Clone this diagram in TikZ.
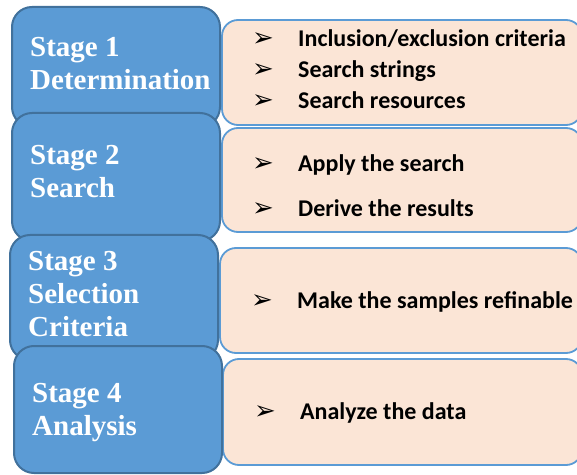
\documentclass[tikz,border=0pt]{standalone}
\usepackage{fontspec}
\setmainfont{Liberation Serif}
\newfontfamily\calfont{Carlito}
\newfontfamily\dingfont{DejaVu Sans}
\usetikzlibrary{positioning}

\definecolor{stageblue}{HTML}{5B9BD5}
\definecolor{stageedge}{HTML}{41719C}
\definecolor{taskfill}{HTML}{FBE5D6}

% one bulleted line in a task box
\newcommand{\task}[1]{\makebox[46pt][l]{\dingfont\fontsize{26}{26}\selectfont ➢}#1}

\tikzset{
  stage/.style={rectangle, draw=stageedge, fill=stageblue, line width=2pt, rounded corners=20pt},
  stagetext/.style={text=white, font=\bfseries\fontsize{29}{33}\selectfont, align=left, inner sep=0pt, anchor=west},
  taskbox/.style={rectangle, draw=stageblue, fill=taskfill, line width=1.8pt, rounded corners=16pt},
  tasktext/.style={font=\calfont\bfseries\fontsize{24}{31}\selectfont, align=left, inner sep=0pt, anchor=west},
}

\begin{document}
\begin{tikzpicture}[x=1pt, y=1pt]
  \useasboundingbox (0,0) rectangle (577,474);

  % task boxes on the right
  \node[taskbox, minimum width=360pt, minimum height=105pt] (t1) at (402,401.5) {};
  \node[taskbox, minimum width=360pt, minimum height=104pt] (t2) at (402,294) {};
  \node[taskbox, minimum width=362pt, minimum height=105pt] (t3) at (401,173.5) {};
  \node[taskbox, minimum width=359pt, minimum height=106pt] (t4) at (402.5,62) {};

  % stage boxes, each one laid over the one above
  \node[stage, minimum width=208pt, minimum height=120pt] (s1) at (116,407) {};
  \node[stagetext] (s1txt) at (30,410) {Stage 1\\Determination};
  \node[stage, minimum width=208pt, minimum height=128pt] (s2) at (116,297) {};
  \node[stagetext] (s2txt) at (30,302) {Stage 2\\Search};
  \node[stage, minimum width=208pt, minimum height=125pt] (s3) at (114,176.5) {};
  \node[stagetext] (s3txt) at (28,180) {Stage 3\\Selection\\Criteria};
  \node[stage, minimum width=208pt, minimum height=127pt] (s4) at (118,64.5) {};
  \node[stagetext] (s4txt) at (32,61) {Stage 4\\Analysis};

  % bulleted tasks
  \node[tasktext] (t1txt) at (252,405) {\task{Inclusion/exclusion criteria}\\\task{Search strings}\\\task{Search resources}};
  \node[tasktext] (t2txt) at (252,288) {\task{Apply the search}\\[14pt]\task{Derive the results}};
  \node[tasktext] (t3txt) at (251,172.5) {\task{Make the samples refinable}};
  \node[tasktext] (t4txt) at (254,61.5) {\task{Analyze the data}};
\end{tikzpicture}
\end{document}
